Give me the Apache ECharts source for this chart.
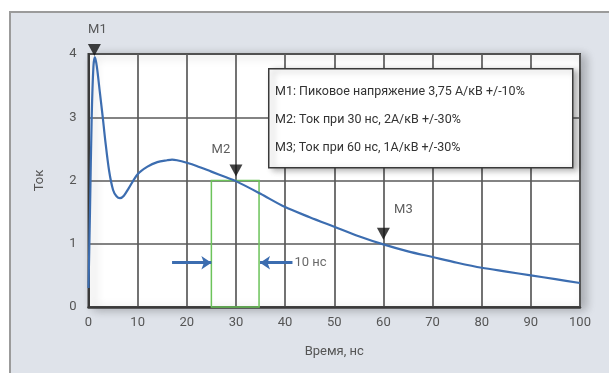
<!DOCTYPE html>
<html>
<head>
<meta charset="utf-8">
<script src="https://cdn.jsdelivr.net/npm/echarts@6/dist/echarts.min.js"></script>
<style>
html,body{margin:0;padding:0;background:#fff;}
#wrap{position:relative;width:609px;height:373px;overflow:hidden;}
#panel{position:absolute;left:9px;top:11px;width:700px;height:500px;background:#dfe3ea;border-top:2px solid #9b9b9b;border-left:2px solid #9b9b9b;}
#chart{position:absolute;left:0;top:0;width:609px;height:373px;}
</style>
</head>
<body>
<div id="wrap"><div id="panel"></div><div id="chart"></div></div>
<script>
// Data
const timeNs = [0, 0.3, 0.65, 1.0, 1.3, 1.7, 2.3, 2.9, 3.4, 4.2, 5.0, 5.7, 6.4, 7.2, 8.2, 10, 12, 14, 16, 17, 18, 20, 22, 25, 28, 30, 35, 40, 45, 50, 55, 60, 65, 70, 75, 80, 85, 90, 95, 100];
const current = [0.3, 1.5, 3.0, 3.8, 3.95, 3.8, 3.4, 3.0, 2.64, 2.15, 1.85, 1.75, 1.72, 1.76, 1.88, 2.1, 2.22, 2.29, 2.32, 2.33, 2.32, 2.28, 2.23, 2.14, 2.05, 1.99, 1.79, 1.58, 1.42, 1.27, 1.12, 0.99, 0.88, 0.79, 0.7, 0.62, 0.56, 0.5, 0.44, 0.38];
const markerNames = ['M1', 'M2', 'M3'];
const markerX = [1.2, 30, 60];
const markerY = [4, 2, 1];
const windowX = [25, 34.7];
const windowY = [0, 2];
const arrowY = 0.7;
const arrowLeft = [17, 25];
const arrowRight = [41.5, 34.9];
const windowLabel = '10 нс';
const legendLines = [
  'M1: Пиковое напряжение 3,75 А/кВ +/-10%',
  'M2: Ток при 30 нс, 2А/кВ +/-30%',
  'M3; Ток при 60 нс, 1А/кВ +/-30%'
];
const xTicks = [0, 100, 10];
const yTicks = [0, 4, 1];

const FONT = 'Roboto';
const chart = echarts.init(document.getElementById('chart'));
const blue = '#3c6db0';
const markerOffsets = [[0, -4], [0, -10], [0, -10]];
const labelOffsets = [[3, 0], [-15, 0], [20, 0]];
const labelDist = [8, 8, 12];

chart.setOption({
  backgroundColor: 'transparent',
  animation: false,
  grid: {
    left: 88.5, right: 29, top: 54, bottom: 66,
    show: true, backgroundColor: '#ffffff', borderColor: '#3a3a3a', borderWidth: 2,
    shadowColor: 'rgba(0,0,0,0.25)', shadowBlur: 10, shadowOffsetX: 5, shadowOffsetY: 2
  },
  xAxis: {
    type: 'value', min: xTicks[0], max: xTicks[1], interval: xTicks[2],
    name: 'Время, нс', nameLocation: 'middle', nameGap: 38,
    nameTextStyle: { fontFamily: FONT, fontSize: 13, color: '#555' },
    axisLine: { lineStyle: { color: '#3a3a3a', width: 2.5 } },
    axisTick: { show: false },
    axisLabel: { fontFamily: FONT, fontSize: 13, color: '#555', margin: 9 },
    splitLine: { lineStyle: { color: '#5a5a5a', width: 1.7 } }
  },
  yAxis: {
    type: 'value', min: yTicks[0], max: yTicks[1], interval: yTicks[2],
    name: 'Ток', nameLocation: 'middle', nameGap: 42, nameRotate: 90,
    nameTextStyle: { fontFamily: FONT, fontSize: 13, color: '#555' },
    axisLine: { show: true, lineStyle: { color: '#3a3a3a', width: 2 } },
    axisTick: { show: false },
    axisLabel: { fontFamily: FONT, fontSize: 13, color: '#555', margin: 12 },
    splitLine: { lineStyle: { color: '#5a5a5a', width: 1.7 } }
  },
  series: [
    {
      type: 'line',
      data: timeNs.map((t, i) => [t, current[i]]),
      smooth: 0.3,
      showSymbol: false,
      lineStyle: { color: blue, width: 2.2 },
      z: 5,
      markArea: {
        silent: true,
        itemStyle: { color: 'rgba(0,0,0,0)', borderColor: '#6cc35a', borderWidth: 1.5 },
        data: [[{ coord: [windowX[0], windowY[0]] }, { coord: [windowX[1], windowY[1]] }]]
      },
      markLine: {
        silent: true,
        symbol: ['none', 'arrow'],
        symbolSize: [10, 10],
        label: { show: false },
        lineStyle: { color: blue, width: 3, type: 'solid' },
        data: [
          [{ coord: [arrowLeft[0], arrowY] }, { coord: [arrowLeft[1], arrowY] }],
          [{ coord: [arrowRight[0], arrowY] }, { coord: [arrowRight[1], arrowY] }]
        ]
      }
    },
    {
      type: 'scatter',
      symbol: 'triangle',
      symbolRotate: 180,
      symbolSize: [13, 12],
      itemStyle: { color: '#111' },
      z: 10,
      data: markerNames.map((n, i) => ({
        value: [markerX[i], markerY[i]],
        name: n,
        symbolOffset: markerOffsets[i],
        label: {
          show: true, position: 'top', formatter: n, distance: labelDist[i],
          offset: labelOffsets[i],
          fontFamily: FONT, fontSize: 13, color: '#333'
        }
      }))
    },
    {
      type: 'scatter',
      symbolSize: 0,
      z: 10,
      data: [{
        value: [arrowRight[0], arrowY],
        label: { show: true, position: 'right', distance: 2, formatter: windowLabel, fontFamily: FONT, fontSize: 13, color: '#444' }
      }]
    }
  ],
  graphic: [
    { type: 'rect', z: 100, left: 268, top: 68, shape: { width: 304, height: 99 },
      style: { fill: '#ffffff', stroke: '#3a3a3a', lineWidth: 1.5,
               shadowColor: 'rgba(0,0,0,0.3)', shadowBlur: 6, shadowOffsetX: 4, shadowOffsetY: 2 } },
    ...legendLines.map((t, i) => ({
      type: 'text', z: 101, left: 275, top: 85 + i * 28,
      style: { text: t, fontFamily: FONT, fontSize: 12.5, fill: '#333' }
    }))
  ]
});
</script>
</body>
</html>
